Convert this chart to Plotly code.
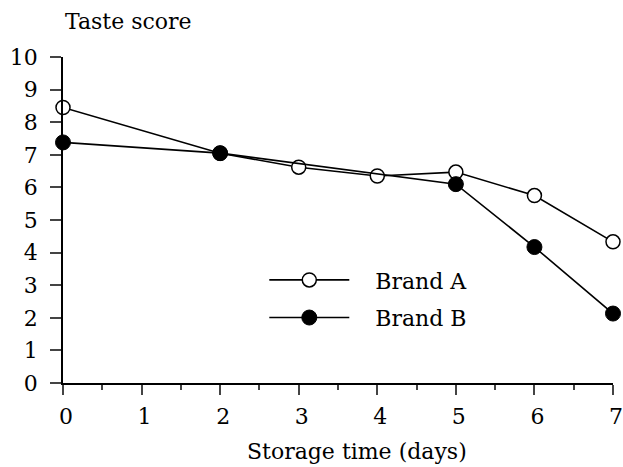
import plotly.graph_objects as go

days_a = [0, 2, 3, 4, 5, 6, 7]
score_a = [8.45, 7.05, 6.62, 6.35, 6.47, 5.75, 4.33]
days_b = [0, 2, 5, 6, 7]
score_b = [7.38, 7.05, 6.1, 4.17, 2.13]
x_ticks = [0, 1, 2, 3, 4, 5, 6, 7]
y_ticks = list(range(0, 11))

FONT = "DejaVu Serif"
NB = "\u00a0"
fig = go.Figure()
fig.add_trace(go.Scatter(
    x=days_a, y=score_a, mode="lines+markers", name=NB * 3 + "Brand A",
    legendgroup="a",
    line=dict(color="black", width=1.6),
    marker=dict(symbol="circle", size=14, color="white", line=dict(color="black", width=1.5)),
    cliponaxis=False,
))
fig.add_trace(go.Scatter(
    x=days_b, y=score_b, mode="lines+markers", name=NB * 3 + "Brand B",
    legendgroup="b",
    line=dict(color="black", width=1.6),
    marker=dict(symbol="circle", size=15, color="black", line=dict(color="black", width=1)),
    cliponaxis=False,
))
fig.update_layout(
    width=623, height=467,
    margin=dict(l=63, r=10, t=57, b=84, autoexpand=False),
    paper_bgcolor="white", plot_bgcolor="white",
    font=dict(family=FONT, size=22, color="black"),
    showlegend=True,
    legend=dict(x=0.366, y=0.38, xanchor="left", yanchor="top", itemwidth=80,
                traceorder="grouped", tracegroupgap=6,
                bgcolor="rgba(0,0,0,0)", font=dict(size=22)),
    xaxis=dict(range=[0, 7], tickvals=x_ticks, ticks="outside", ticklen=10, tickwidth=1.5,
               showline=True, linecolor="black", linewidth=1.8, showgrid=False, zeroline=False,
               ticklabelstandoff=3, ticklabelshift=3, ticklabeloverflow="allow", automargin=False,
               minor=dict(dtick=0.5, ticks="outside", ticklen=5, tickwidth=1.5, showgrid=False)),
    yaxis=dict(range=[0, 10], tickvals=y_ticks, ticks="outside", ticklen=11, tickwidth=1.5,
               showline=True, linecolor="black", linewidth=1.8, showgrid=False, zeroline=False,
               ticklabelstandoff=8, automargin=False),
    annotations=[
        dict(text="Taste score", xref="paper", yref="paper", x=0.0, y=1.0, xanchor="left",
             yanchor="bottom", yshift=21, showarrow=False, font=dict(size=22)),
        dict(text="Storage time (days)", xref="paper", yref="paper", x=0.535, y=0, xanchor="center",
             yanchor="top", yshift=-54, showarrow=False, font=dict(size=22)),
    ],
)
fig.write_html("out.html", config={"displayModeBar": False},
               post_script="document.body.style.margin='0px';document.body.style.overflow='hidden';")
